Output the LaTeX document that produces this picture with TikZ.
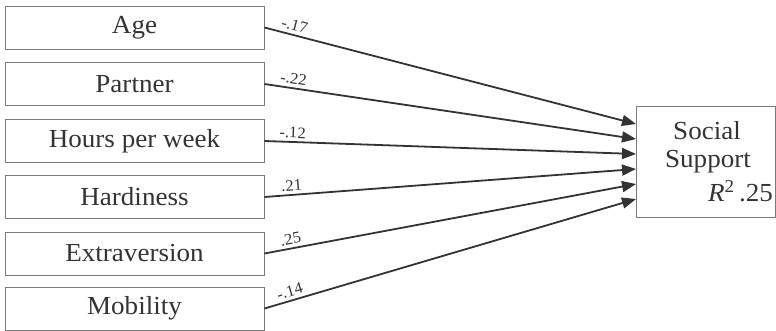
\documentclass[tikz,border=0pt]{standalone}
\usepackage{fontspec}
\setmainfont[FakeStretch=1.04]{Liberation Serif}
\usetikzlibrary{arrows.meta}

\begin{document}
\begin{tikzpicture}[x=1pt,y=-1pt]
    \definecolor{borderColour}{HTML}{7A7A7A}
    \definecolor{lineColour}{HTML}{333333}
    \definecolor{textColour}{HTML}{333333}

    \tikzset{
        predBox/.style={draw=borderColour, line width=0.9pt, minimum width=259pt, minimum height=43pt, inner sep=0pt, text=textColour, font=\fontsize{26}{30}\selectfont},
        pathArrow/.style={draw=lineColour, line width=1.8pt, -{Triangle[length=14pt,width=11pt]}},
        weight/.style={pos=0.075, above, sloped, inner sep=3pt, text=textColour, font=\fontsize{16}{18}\selectfont},
        outText/.style={text=textColour, inner sep=0pt, font=\fontsize{26}{30}\selectfont}
    }

    \useasboundingbox (0,0) rectangle (776,330);

    % Predictor boxes
    \foreach \name/\label/\y in {age/Age/27.5, partner/Partner/84, hours/Hours per week/141,
        hardiness/Hardiness/197, extra/Extraversion/253.5, mobility/Mobility/308.5}
        \node[predBox] (\name) at (134.5,\y) {\label};

    % Outcome box
    \node[draw=borderColour, line width=0.9pt, minimum width=139pt, minimum height=111pt] (support) at (705.5,161.5) {};
    \node[outText] (social) at (707,131) {Social};
    \node[outText] (supp) at (708,162) {Support};
    \node[outText, anchor=east] (rsq) at (773,191) {\textit{R}\textsuperscript{2}\,.25};

    % Arrow tips on the outcome box
    \foreach \name/\y in {age/124, partner/139, hours/154, hardiness/169, extra/184, mobility/199}
        \coordinate (tip-\name) at (636,\y);

    % Paths with weights
    \draw[pathArrow] (age.east) -- node[weight] {-.17} (tip-age);
    \draw[pathArrow] (partner.east) -- node[weight] {-.22} (tip-partner);
    \draw[pathArrow] (hours.east) -- node[weight] {-.12} (tip-hours);
    \draw[pathArrow] (hardiness.east) -- node[weight] {.21} (tip-hardiness);
    \draw[pathArrow] (extra.east) -- node[weight] {.25} (tip-extra);
    \draw[pathArrow] (mobility.east) -- node[weight] {-.14} (tip-mobility);

\end{tikzpicture}
\end{document}
